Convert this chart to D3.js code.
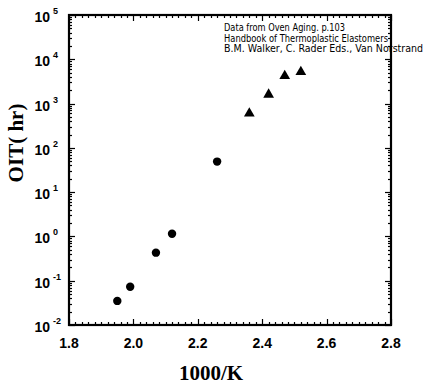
<!DOCTYPE html>
<html>
<head>
<meta charset="utf-8">
<script src="https://cdn.jsdelivr.net/npm/d3@7"></script>
<style>
  body { margin: 0; background: #fff; }
  svg { display: block; }
</style>
</head>
<body>
<svg id="chart"></svg>
<script>
// OIT vs 1000/K, oven aging data
var circleX = [1.95, 1.99, 2.07, 2.12, 2.26];
var circleY = [0.035, 0.073, 0.43, 1.15, 49];
var triangleX = [2.36, 2.42, 2.47, 2.52];
var triangleY = [600, 1600, 4200, 5200];
var xTicks = [1.8, 2.0, 2.2, 2.4, 2.6, 2.8];
var yExponents = [-2, -1, 0, 1, 2, 3, 4, 5];
var notes = [
    'Data from Oven Aging. p.103',
    'Handbook of Thermoplastic Elastomers',
    'B.M. Walker, C. Rader Eds., Van Norstrand'
];

var width = 426, height = 385;
// plot frame (note: "top" is reserved on window, so use plot* names)
var plotLeft = 69, plotTop = 15, plotRight = 391, plotBottom = 325;

var svg = d3.select('#chart')
    .attr('width', width)
    .attr('height', height);

var x = d3.scaleLinear().domain([1.8, 2.8]).range([plotLeft, plotRight]);
var y = d3.scaleLog().domain([1e-2, 1e5]).range([plotBottom, plotTop]);

// minor x ticks every 0.02
var xMinor = d3.range(0, 51).map(function(i) { return 1.8 + i * 0.02; });
var yMinor = y.ticks();

var ticks = svg.append('g').attr('stroke', '#000').attr('stroke-width', 1.2);

xMinor.forEach(function(v, i) {
    var len = (i % 10 === 0) ? 6 : 3;
    var px = Math.round(x(v)) + 0.5;
    ticks.append('line').attr('x1', px).attr('x2', px).attr('y1', plotBottom).attr('y2', plotBottom - len);
    ticks.append('line').attr('x1', px).attr('x2', px).attr('y1', plotTop).attr('y2', plotTop + len);
});

yMinor.forEach(function(v) {
    var major = Math.abs(Math.log10(v) - Math.round(Math.log10(v))) < 1e-6;
    var len = major ? 6 : 3;
    var py = Math.round(y(v)) + 0.5;
    ticks.append('line').attr('x1', plotLeft).attr('x2', plotLeft + len).attr('y1', py).attr('y2', py);
    ticks.append('line').attr('x1', plotRight).attr('x2', plotRight - len).attr('y1', py).attr('y2', py);
});

// frame
svg.append('rect')
    .attr('x', plotLeft).attr('y', plotTop)
    .attr('width', plotRight - plotLeft).attr('height', plotBottom - plotTop)
    .attr('fill', 'none').attr('stroke', '#000').attr('stroke-width', 2.2);

// x tick labels
svg.append('g').selectAll('text')
    .data(xTicks)
    .enter().append('text')
    .attr('x', function(d) { return x(d); })
    .attr('y', plotBottom + 23)
    .attr('text-anchor', 'middle')
    .attr('font-family', 'Liberation Sans, Arial, sans-serif')
    .attr('font-weight', 'bold')
    .attr('font-size', 14)
    .text(function(d) { return d.toFixed(1); });

// y tick labels: 10 with superscript
var yl = svg.append('g').selectAll('g')
    .data(yExponents)
    .enter().append('g')
    .attr('transform', function(d) { return 'translate(0,' + y(Math.pow(10, d)) + ')'; });

yl.append('text')
    .attr('x', 50).attr('y', 7)
    .attr('text-anchor', 'end')
    .attr('font-family', 'Liberation Sans, Arial, sans-serif')
    .attr('font-weight', 'bold')
    .attr('font-size', 14)
    .text('10');

yl.append('text')
    .attr('x', 53).attr('y', -1)
    .attr('font-family', 'Liberation Sans, Arial, sans-serif')
    .attr('font-weight', 'bold')
    .attr('font-size', 9)
    .text(function(d) { return d; });

// axis titles
svg.append('text')
    .attr('x', 211).attr('y', 380)
    .attr('text-anchor', 'middle')
    .attr('font-family', 'Liberation Serif, Times New Roman, serif')
    .attr('font-weight', 'bold')
    .attr('font-size', 21)
    .text('1000/K');

svg.append('text')
    .attr('transform', 'translate(23,143) rotate(-90)')
    .attr('text-anchor', 'middle')
    .attr('font-family', 'Liberation Serif, Times New Roman, serif')
    .attr('font-weight', 'bold')
    .attr('font-size', 21)
    .text('OIT( hr)');

// data points
svg.append('g').selectAll('circle')
    .data(circleX)
    .enter().append('circle')
    .attr('cx', function(d) { return x(d); })
    .attr('cy', function(d, i) { return y(circleY[i]); })
    .attr('r', 4.2)
    .attr('fill', '#000');

var tri = d3.symbol().type(d3.symbolTriangle).size(50);
svg.append('g').selectAll('path')
    .data(triangleX)
    .enter().append('path')
    .attr('d', tri)
    .attr('transform', function(d, i) { return 'translate(' + x(d) + ',' + y(triangleY[i]) + ')'; })
    .attr('fill', '#000');

// annotation
svg.append('g').selectAll('text')
    .data(notes)
    .enter().append('text')
    .attr('x', 224)
    .attr('y', function(d, i) { return 31 + i * 10.5; })
    .attr('font-family', 'DejaVu Sans, sans-serif')
    .attr('font-size', 10)
    .attr('textLength', function(d, i) { return [121, 164, 199][i]; })
    .attr('lengthAdjust', 'spacingAndGlyphs')
    .text(function(d) { return d; });
</script>
</body>
</html>
